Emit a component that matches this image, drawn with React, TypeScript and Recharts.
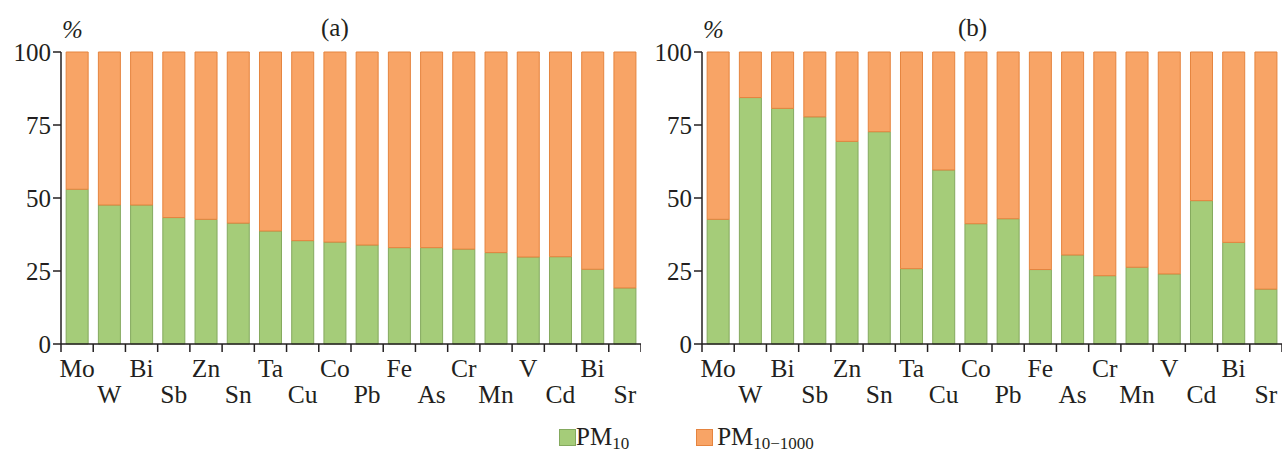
import { BarChart, Bar, XAxis, YAxis } from 'recharts'

const elements = ['Mo', 'W', 'Bi', 'Sb', 'Zn', 'Sn', 'Ta', 'Cu', 'Co', 'Pb', 'Fe', 'As', 'Cr', 'Mn', 'V', 'Cd', 'Bi', 'Sr']

// panel (a)
const fineA = [53.0, 47.6, 47.6, 43.3, 42.7, 41.4, 38.7, 35.4, 34.9, 33.9, 33.0, 33.0, 32.5, 31.3, 29.8, 29.9, 25.6, 19.2]
const coarseA = [47.0, 52.4, 52.4, 56.7, 57.3, 58.6, 61.3, 64.6, 65.1, 66.1, 67.0, 67.0, 67.5, 68.7, 70.2, 70.1, 74.4, 80.8]

// panel (b)
const fineB = [42.7, 84.4, 80.7, 77.8, 69.4, 72.7, 25.8, 59.6, 41.2, 42.9, 25.5, 30.5, 23.4, 26.3, 24.0, 49.1, 34.8, 18.8]
const coarseB = [57.3, 15.6, 19.3, 22.2, 30.6, 27.3, 74.2, 40.4, 58.8, 57.1, 74.5, 69.5, 76.6, 73.7, 76.0, 50.9, 65.2, 81.2]

const yTicks = [0, 25, 50, 75, 100]

const GREEN = '#a5cc79'
const GREEN_EDGE = '#84a95e'
const ORANGE = '#f8a466'
const ORANGE_EDGE = '#e5843f'
const INK = '#231f20'
const FONT = '"Liberation Serif", "DejaVu Serif", serif'

const CHART_W = 641
const CHART_H = 453
const Y_W = 61
const BAND = (CHART_W - Y_W) / elements.length

function ElementTick(props: any) {
    const { x, y, payload } = props
    const i = payload.index ?? props.index ?? 0
    const half = BAND / 2
    return (
        <g>
            <line x1={x - half} y1={y} x2={x - half} y2={y + 8} stroke={INK} strokeWidth={1.5} />
            {i === elements.length - 1 && (
                <line x1={x + half} y1={y} x2={x + half} y2={y + 8} stroke={INK} strokeWidth={1.5} />
            )}
            <text x={x} y={y + (i % 2 ? 59 : 33)} textAnchor="middle" fill={INK} fontSize={25.5} fontFamily={FONT}>
                {payload.value}
            </text>
        </g>
    )
}

function Panel({ fine, coarse }: { fine: number[]; coarse: number[] }) {
    const data = elements.map((el, i) => ({ el, fine: fine[i], coarse: coarse[i] }))
    return (
        <BarChart
            width={CHART_W}
            height={CHART_H}
            data={data}
            margin={{ top: 52, right: 0, left: 0, bottom: 49 }}
            barCategoryGap="16%"
        >
            <XAxis
                dataKey="el"
                interval={0}
                height={60}
                tickLine={false}
                tickSize={0}
                tickMargin={0}
                axisLine={{ stroke: INK, strokeWidth: 1.5 }}
                tick={<ElementTick />}
            />
            <YAxis
                domain={[0, 100]}
                ticks={yTicks}
                width={Y_W}
                tickSize={8}
                tickMargin={2}
                axisLine={{ stroke: INK, strokeWidth: 1.5 }}
                tickLine={{ stroke: INK, strokeWidth: 1.5 }}
                tick={{ fill: INK, fontSize: 25, fontFamily: FONT }}
            />
            <Bar dataKey="fine" stackId="s" fill={GREEN} stroke={GREEN_EDGE} strokeWidth={1} isAnimationActive={false} />
            <Bar dataKey="coarse" stackId="s" fill={ORANGE} stroke={ORANGE_EDGE} strokeWidth={1} isAnimationActive={false} />
        </BarChart>
    )
}

const textStyle = { position: 'absolute' as const, fontFamily: FONT, color: INK, fontSize: 25, lineHeight: '25px' }

function Swatch({ fill, edge }: { fill: string; edge: string }) {
    return <span style={{ display: 'inline-block', width: 15, height: 15, background: fill, border: `1px solid ${edge}` }} />
}

export default function App() {
    return (
        <div style={{ position: 'absolute', left: 0, top: 0, width: 1282, height: 453, background: '#fff', overflow: 'hidden' }}>
            <div style={{ position: 'absolute', left: 0, top: 0 }}>
                <Panel fine={fineA} coarse={coarseA} />
            </div>
            <div style={{ position: 'absolute', left: 641, top: 0 }}>
                <Panel fine={fineB} coarse={coarseB} />
            </div>

            <div style={{ ...textStyle, left: 62, top: 17, fontStyle: 'italic' }}>%</div>
            <div style={{ ...textStyle, left: 703, top: 17, fontStyle: 'italic' }}>%</div>
            <div style={{ ...textStyle, left: 321, top: 15 }}>(a)</div>
            <div style={{ ...textStyle, left: 958, top: 15 }}>(b)</div>

            <div style={{ position: 'absolute', left: 559, top: 424, display: 'flex', alignItems: 'flex-start', fontFamily: FONT, color: INK }}>
                <span style={{ marginTop: 5 }}><Swatch fill={GREEN} edge={GREEN_EDGE} /></span>
                <span style={{ fontSize: 25, lineHeight: '25px' }}>PM<sub style={{ fontSize: 17, lineHeight: '17px', verticalAlign: '-4px' }}>10</sub></span>
                <span style={{ marginLeft: 67, marginTop: 5 }}><Swatch fill={ORANGE} edge={ORANGE_EDGE} /></span>
                <span style={{ fontSize: 25, lineHeight: '25px', marginLeft: 4 }}>PM<sub style={{ fontSize: 17, lineHeight: '17px', verticalAlign: '-4px' }}>10−1000</sub></span>
            </div>
        </div>
    )
}
